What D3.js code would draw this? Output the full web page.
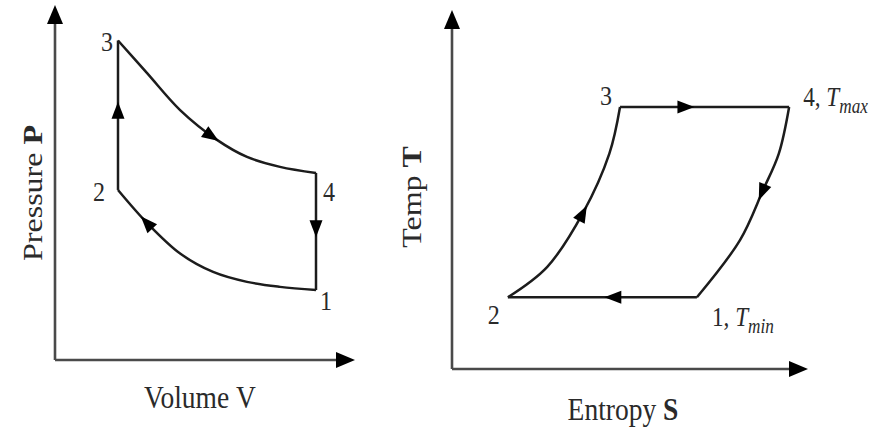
<!DOCTYPE html>
<html>
<head>
<meta charset="utf-8">
<script src="https://cdn.jsdelivr.net/npm/d3@7"></script>
<style>
  body { margin: 0; background: #fff; }
  text { font-family: "Liberation Serif", "Times New Roman", serif; fill: #2a2a2a; }
</style>
</head>
<body>
<svg id="chart" width="887" height="430"></svg>
<script>
// values, arbitrary units 0..10 on every axis

// P-V diagram: corners of the cycle
var pvNames = ['1', '2', '3', '4'];
var pvVolume = [8.7, 2.1, 2.1, 8.7];
var pvPressure = [1.97, 4.79, 9.0, 5.27];
// compression 1 -> 2 (curve)
var pvCompV = [8.7, 7.5, 6.4, 5.27, 4.17, 3.07, 2.1];
var pvCompP = [1.97, 2.06, 2.2, 2.48, 3.0, 3.86, 4.79];
// expansion 3 -> 4 (curve)
var pvExpV = [2.1, 3.07, 4.17, 5.4, 6.4, 7.5, 8.7];
var pvExpP = [9.0, 8.08, 7.04, 6.2, 5.72, 5.44, 5.27];
// where the arrowheads sit along 1->2, 2->3, 3->4, 4->1 (fraction of length)
var pvArrowAt = [0.85, 0.59, 0.58, 0.55];

// T-S diagram: corners of the cycle
var tsNames = ['1', '2', '3', '4'];
var tsEntropy = [6.88, 1.57, 4.72, 9.47];
var tsTemp = [2.0, 2.0, 7.3, 7.3];
// 2 -> 3 (curve)
var tsUpS = [1.57, 2.67, 3.68, 4.42, 4.72];
var tsUpT = [2.0, 2.84, 4.35, 6.0, 7.3];
// 4 -> 1 (curve)
var tsDownS = [9.47, 9.18, 8.74, 8.09, 6.88];
var tsDownT = [7.3, 6.0, 4.99, 3.59, 2.0];
var tsArrowAt = [0.49, 0.54, 0.44, 0.46];

var axisMax = 10;

var svg = d3.select('#chart');
svg.append('rect').attr('width', 887).attr('height', 430).attr('fill', '#fff');

var LINE = '#1c1c1c', AXIS = '#4a4a4a';

function zip(xs, ys) {
  return xs.map(function(x, i) { return [x, ys[i]]; });
}

function drawAxes(g, x, y) {
  var x0 = x(0), y0 = y(0), x1 = x(axisMax), y1 = y(axisMax);
  g.append('line').attr('x1', x0).attr('y1', y0).attr('x2', x1 - 10).attr('y2', y0)
    .attr('stroke', AXIS).attr('stroke-width', 2.6);
  g.append('line').attr('x1', x0).attr('y1', y0).attr('x2', x0).attr('y2', y1 + 10)
    .attr('stroke', AXIS).attr('stroke-width', 2.6);
  g.append('path').attr('d', 'M0,0L-19,-8L-19,8Z').attr('fill', '#000')
    .attr('transform', 'translate(' + x1 + ',' + y0 + ')');
  g.append('path').attr('d', 'M0,0L-19,-8L-19,8Z').attr('fill', '#000')
    .attr('transform', 'translate(' + x0 + ',' + y1 + ') rotate(-90)');
}

function drawSegment(g, pts, x, y, curved, at) {
  var line = d3.line().x(function(d) { return x(d[0]); }).y(function(d) { return y(d[1]); })
    .curve(curved ? d3.curveCatmullRom.alpha(0.5) : d3.curveLinear);
  var p = g.append('path').attr('d', line(pts)).attr('fill', 'none')
    .attr('stroke', LINE).attr('stroke-width', 2.5).attr('stroke-linejoin', 'round');
  var node = p.node(), L = node.getTotalLength();
  var tip = node.getPointAtLength(at * L), back = node.getPointAtLength(at * L - 3);
  var ang = Math.atan2(tip.y - back.y, tip.x - back.x) * 180 / Math.PI;
  g.append('path').attr('d', 'M0,0L-17,-6.5L-17,6.5Z').attr('fill', '#000')
    .attr('transform', 'translate(' + tip.x + ',' + tip.y + ') rotate(' + ang + ')');
}

function pointLabel(g, txt, px, py, dx, dy) {
  g.append('text').attr('transform', 'translate(' + (px + dx) + ',' + (py + dy) + ') scale(0.86,1)')
    .attr('text-anchor', 'middle').attr('dominant-baseline', 'central')
    .style('font-size', '28px').text(txt);
}

function subLabel(g, num, sub, px, py, dx, dy) {
  var t = g.append('text').attr('transform', 'translate(' + (px + dx) + ',' + (py + dy) + ') scale(0.86,1)')
    .style('font-size', '27px');
  t.append('tspan').text(num + ', ');
  t.append('tspan').style('font-style', 'italic').text('T');
  t.append('tspan').style('font-style', 'italic').style('font-size', '20px').attr('dy', 7).text(sub);
}

function hTitle(g, txt, last, bold, cx, by) {
  var t = g.append('text').attr('transform', 'translate(' + cx + ',' + by + ') scale(0.86,1)')
    .attr('text-anchor', 'middle').style('font-size', '32px');
  t.append('tspan').text(txt + ' ');
  t.append('tspan').style('font-weight', bold ? 'bold' : 'normal').text(last);
}

function vTitle(g, txt, last, bx, cy) {
  var t = g.append('text').attr('transform', 'translate(' + bx + ',' + cy + ') rotate(-90) scale(1,0.86)')
    .attr('text-anchor', 'middle').style('font-size', '32px');
  t.append('tspan').text(txt + ' ');
  t.append('tspan').style('font-weight', 'bold').text(last);
}

// ---- left: P-V ----
var xPV = d3.scaleLinear().domain([0, axisMax]).range([55, 355]);
var yPV = d3.scaleLinear().domain([0, axisMax]).range([360, 5]);
var gPV = svg.append('g');
drawAxes(gPV, xPV, yPV);
var pv = zip(pvVolume, pvPressure);
drawSegment(gPV, zip(pvCompV, pvCompP), xPV, yPV, true, pvArrowAt[0]);
drawSegment(gPV, [pv[1], pv[2]], xPV, yPV, false, pvArrowAt[1]);
drawSegment(gPV, zip(pvExpV, pvExpP), xPV, yPV, true, pvArrowAt[2]);
drawSegment(gPV, [pv[3], pv[0]], xPV, yPV, false, pvArrowAt[3]);
var pvOff = [[10, 11], [-19, 2], [-11, 1], [13, 19]];
pv.forEach(function(d, i) {
  pointLabel(gPV, pvNames[i], xPV(d[0]), yPV(d[1]), pvOff[i][0], pvOff[i][1]);
});
hTitle(gPV, 'Volume', 'V', false, 200, 408);
vTitle(gPV, 'Pressure', 'P', 42, 193);

// ---- right: T-S ----
var xTS = d3.scaleLinear().domain([0, axisMax]).range([452, 808]);
var yTS = d3.scaleLinear().domain([0, axisMax]).range([369, 10]);
var gTS = svg.append('g');
drawAxes(gTS, xTS, yTS);
var ts = zip(tsEntropy, tsTemp);
drawSegment(gTS, [ts[0], ts[1]], xTS, yTS, false, tsArrowAt[0]);
drawSegment(gTS, zip(tsUpS, tsUpT), xTS, yTS, true, tsArrowAt[1]);
drawSegment(gTS, [ts[2], ts[3]], xTS, yTS, false, tsArrowAt[2]);
drawSegment(gTS, zip(tsDownS, tsDownT), xTS, yTS, true, tsArrowAt[3]);
pointLabel(gTS, tsNames[1], xTS(ts[1][0]), yTS(ts[1][1]), -14, 18);
pointLabel(gTS, tsNames[2], xTS(ts[2][0]), yTS(ts[2][1]), -14, -11);
subLabel(gTS, tsNames[3], 'max', xTS(ts[3][0]), yTS(ts[3][1]), 14, -1);
subLabel(gTS, tsNames[0], 'min', xTS(ts[0][0]), yTS(ts[0][1]), 15, 29);
hTitle(gTS, 'Entropy', 'S', true, 623, 420);
vTitle(gTS, 'Temp', 'T', 421, 197);
</script>
</body>
</html>
